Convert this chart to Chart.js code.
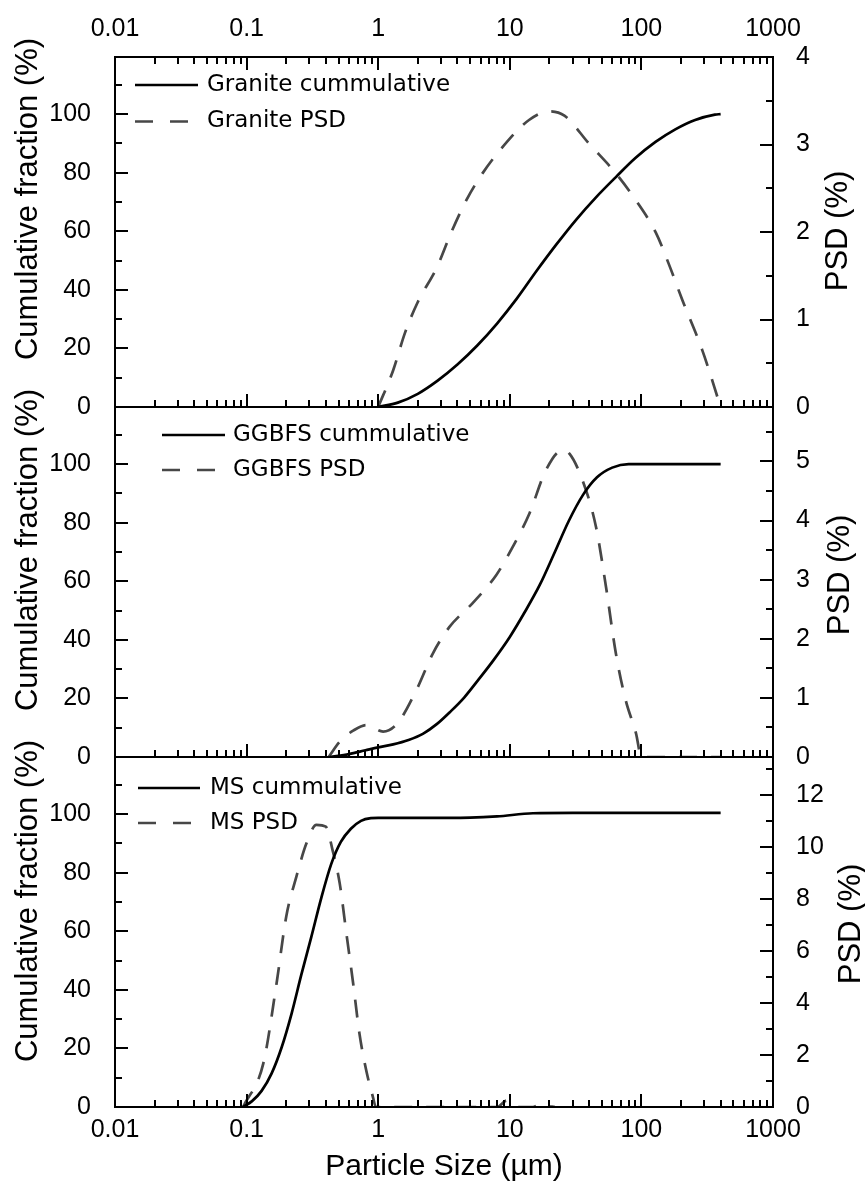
<!DOCTYPE html>
<html><head><meta charset="utf-8">
<script src="https://cdn.jsdelivr.net/npm/chart.js@4.4.1/dist/chart.umd.min.js"></script>
<style>html,body{margin:0;padding:0;background:#fff}#wrap{position:relative;width:865px;height:1198px}</style>
</head><body><div id="wrap"><canvas id="c"></canvas></div>
<script>
// ---------- data ----------
const xTickLabels = ['0.01', '0.1', '1', '10', '100', '1000'];
const xTickValues = [0.01, 0.1, 1, 10, 100, 1000];
const cumTickValues = [0, 20, 40, 60, 80, 100];
const cumMinorValues = [10, 30, 50, 70, 90, 110];
const granitePsdTicks = [0, 1, 2, 3, 4];
const granitePsdMinor = [0.5, 1.5, 2.5, 3.5];
const ggbfsPsdTicks = [0, 1, 2, 3, 4, 5];
const ggbfsPsdMinor = [0.5, 1.5, 2.5, 3.5, 4.5, 5.5];
const msPsdTicks = [0, 2, 4, 6, 8, 10, 12];
const msPsdMinor = [1, 3, 5, 7, 9, 11, 13];

const seriesNames = ['Granite cummulative', 'Granite PSD', 'GGBFS cummulative', 'GGBFS PSD', 'MS cummulative', 'MS PSD'];

const graniteCumSize  = [1, 1.41, 2, 2.83, 4, 5.66, 8, 11.3, 16, 22.6, 32, 45, 64, 90, 128, 181, 256, 362, 400];
const graniteCumValue = [0, 1.5, 4.5, 9, 14.5, 21, 28.5, 37, 46.5, 55.5, 64, 71.5, 78.5, 85, 90.5, 94.8, 98, 99.8, 100];
const granitePsdSize  = [1, 1.3, 1.6, 2, 2.8, 3.6, 4.7, 6.2, 8.8, 14, 20, 26, 40, 64, 90, 129, 160, 205, 290, 400];
const granitePsdValue = [0, 0.42, 0.85, 1.2, 1.6, 2.0, 2.37, 2.67, 2.97, 3.28, 3.38, 3.33, 3.01, 2.67, 2.37, 1.99, 1.65, 1.22, 0.65, 0];

const ggbfsCumSize  = [0.43, 0.6, 0.8, 1, 1.3, 1.7, 2.2, 2.8, 3.5, 4.5, 5.8, 7.5, 10, 13, 17, 22, 28, 36, 46, 60, 80, 400];
const ggbfsCumValue = [0, 1, 2.3, 3.3, 4.3, 5.8, 8, 11.3, 15.3, 20.3, 26.5, 33, 41, 49.5, 59, 70, 80.5, 89.5, 95.5, 98.8, 100, 100];
const ggbfsPsdSize  = [0.42, 0.51, 0.65, 0.81, 1.09, 1.4, 1.95, 2.6, 3.48, 5.2, 7.9, 10.5, 14.1, 18.8, 25.2, 28.4, 35.7, 45.2, 53.8, 64, 76, 91, 100, 400];
const ggbfsPsdValue = [0, 0.26, 0.45, 0.54, 0.43, 0.57, 1.13, 1.75, 2.2, 2.6, 3.08, 3.55, 4.12, 4.85, 5.19, 5.13, 4.68, 3.89, 2.88, 1.75, 0.96, 0.4, 0, 0];

const msCumSize  = [0.094, 0.11, 0.13, 0.155, 0.185, 0.22, 0.26, 0.31, 0.37, 0.44, 0.52, 0.62, 0.74, 0.88, 1, 2, 5, 8, 15, 30, 100, 400];
const msCumValue = [0, 2, 5.5, 11.5, 20.5, 32, 45, 58, 71.5, 83, 90.5, 95, 97.7, 98.6, 98.7, 98.7, 98.8, 99.2, 100.3, 100.4, 100.4, 100.4];
const msPsdSize  = [0.094, 0.134, 0.169, 0.2, 0.239, 0.285, 0.339, 0.40, 0.45, 0.51, 0.573, 0.645, 0.72, 0.81, 0.91, 0.96, 8, 9.5, 10.5, 12, 15, 17, 19, 22];
const msPsdValue = [0, 1.68, 4.76, 7.32, 8.86, 10.14, 10.85, 10.78, 9.88, 8.6, 6.68, 4.76, 2.83, 1.42, 0.4, 0, 0, 0.25, 0.1, 0, 0, 0.12, 0.05, 0];

// ---------- helpers ----------
const pts = (xs, ys) => xs.map((x, i) => ({ x: x, y: ys[i] }));
const TICK_FONT = { family: "'Liberation Sans', Arial, sans-serif", size: 25 };
const TITLE_FONT = "30px 'Liberation Sans', Arial, sans-serif";
const YTITLE_FONT = "31px 'Liberation Sans', Arial, sans-serif";
const LEGEND_FONT = "23px 'DejaVu Sans', Verdana, sans-serif";
const GREY = '#474747';
const DASH = [18, 14];

function lineDs(label, data, yId, dashed) {
  return {
    label: label, data: data, xAxisID: 'x', yAxisID: yId,
    borderColor: dashed ? GREY : '#000', borderWidth: 2.7,
    borderDash: dashed ? DASH : [], pointRadius: 0, fill: false,
    cubicInterpolationMode: 'monotone', borderCapStyle: 'butt'
  };
}
function setTicks(arr) { return s => { s.ticks = arr.map(v => ({ value: v })); }; }
function yAxis(pos, weight, max, ticks, width, pad) {
  return {
    type: 'linear', position: pos, stack: pos, stackWeight: 1, weight: weight,
    min: 0, max: max,
    afterBuildTicks: setTicks(ticks),
    afterFit: s => { s.width = width; },
    ticks: { font: TICK_FONT, color: '#000', padding: pad, callback: v => String(v) },
    grid: { display: false }, border: { display: false }
  };
}
function xAxis(pos, height, pad) {
  return {
    type: 'logarithmic', position: pos, min: 0.01, max: 1000,
    afterBuildTicks: setTicks(xTickValues),
    afterFit: s => { s.height = height; },
    ticks: { font: TICK_FONT, color: '#000', padding: pad, autoSkip: false, maxRotation: 0, minRotation: 0,
             callback: (v, i) => xTickLabels[i] },
    grid: { display: false }, border: { display: false }
  };
}

const panels = [
  { left: 'yL1', right: 'yR1', rMaj: granitePsdTicks, rMin: granitePsdMinor, topTicks: true,
    legend: { x0: 135, x1: 198, tx: 207, y: 85, dy: 36.5, names: [seriesNames[0], seriesNames[1]] },
    lTitleY: 199, rTitleX: 838, rTitleY: 231 },
  { left: 'yL2', right: 'yR2', rMaj: ggbfsPsdTicks, rMin: ggbfsPsdMinor, topTicks: false,
    legend: { x0: 162, x1: 225, tx: 233, y: 435, dy: 35, names: [seriesNames[2], seriesNames[3]] },
    lTitleY: 550, rTitleX: 840, rTitleY: 575 },
  { left: 'yL3', right: 'yR3', rMaj: msPsdTicks, rMin: msPsdMinor, topTicks: false,
    legend: { x0: 138, x1: 200, tx: 210, y: 788, dy: 35, names: [seriesNames[4], seriesNames[5]] },
    lTitleY: 901, rTitleX: 851, rTitleY: 924 }
];

const decor = {
  id: 'decor',
  afterDraw(chart) {
    const ctx = chart.ctx, ca = chart.chartArea, xs = chart.scales.x;
    const MAJ = 13, MIN = 7;
    const xMinor = [];
    for (let d = 0; d < xTickValues.length - 1; d++) for (let k = 2; k <= 9; k++) xMinor.push(xTickValues[d] * k);
    ctx.save();
    ctx.strokeStyle = '#000'; ctx.lineWidth = 2; ctx.setLineDash([]);
    panels.forEach(p => {
      const yl = chart.scales[p.left], yr = chart.scales[p.right];
      const top = yl.top, bot = yl.bottom;
      ctx.beginPath();
      cumTickValues.forEach(v => { const y = Math.round(yl.getPixelForValue(v)); ctx.moveTo(ca.left, y); ctx.lineTo(ca.left + MAJ, y); });
      cumMinorValues.forEach(v => { const y = Math.round(yl.getPixelForValue(v)); ctx.moveTo(ca.left, y); ctx.lineTo(ca.left + MIN, y); });
      p.rMaj.forEach(v => { const y = Math.round(yr.getPixelForValue(v)); ctx.moveTo(ca.right, y); ctx.lineTo(ca.right - MAJ, y); });
      p.rMin.forEach(v => { const y = Math.round(yr.getPixelForValue(v)); ctx.moveTo(ca.right, y); ctx.lineTo(ca.right - MIN, y); });
      xTickValues.forEach(v => { const x = Math.round(xs.getPixelForValue(v)); ctx.moveTo(x, bot); ctx.lineTo(x, bot - MAJ);
        if (p.topTicks) { ctx.moveTo(x, top); ctx.lineTo(x, top + MAJ); } });
      xMinor.forEach(v => { const x = Math.round(xs.getPixelForValue(v)); ctx.moveTo(x, bot); ctx.lineTo(x, bot - MIN);
        if (p.topTicks) { ctx.moveTo(x, top); ctx.lineTo(x, top + MIN); } });
      ctx.stroke();
      ctx.strokeRect(ca.left, top, ca.right - ca.left, bot - top);

      // legend
      const L = p.legend;
      ctx.lineWidth = 2.7;
      ctx.strokeStyle = '#000'; ctx.setLineDash([]);
      ctx.beginPath(); ctx.moveTo(L.x0, L.y); ctx.lineTo(L.x1, L.y); ctx.stroke();
      ctx.strokeStyle = GREY; ctx.setLineDash([18, 17]);
      ctx.beginPath(); ctx.moveTo(L.x0, L.y + L.dy); ctx.lineTo(L.x1, L.y + L.dy); ctx.stroke();
      ctx.setLineDash([]); ctx.strokeStyle = '#000'; ctx.lineWidth = 2;
      ctx.fillStyle = '#000'; ctx.font = LEGEND_FONT; ctx.textAlign = 'left'; ctx.textBaseline = 'middle';
      ctx.fillText(L.names[0], L.tx, L.y);
      ctx.fillText(L.names[1], L.tx, L.y + L.dy);

      // axis titles
      ctx.font = YTITLE_FONT; ctx.textAlign = 'center'; ctx.textBaseline = 'middle';
      ctx.save(); ctx.translate(28, p.lTitleY); ctx.rotate(-Math.PI / 2); ctx.fillText('Cumulative fraction (%)', 0, 0); ctx.restore();
      ctx.save(); ctx.translate(p.rTitleX, p.rTitleY); ctx.rotate(-Math.PI / 2); ctx.fillText('PSD (%)', 0, 0); ctx.restore();
    });
    ctx.font = TITLE_FONT; ctx.textAlign = 'center'; ctx.textBaseline = 'middle';
    ctx.fillText('Particle Size (\u00b5m)', (ca.left + ca.right) / 2, 1167);
    ctx.restore();
  }
};

new Chart(document.getElementById('c'), {
  type: 'line',
  data: {
    datasets: [
      lineDs(seriesNames[0], pts(graniteCumSize, graniteCumValue), 'yL1', false),
      lineDs(seriesNames[1], pts(granitePsdSize, granitePsdValue), 'yR1', true),
      lineDs(seriesNames[2], pts(ggbfsCumSize, ggbfsCumValue), 'yL2', false),
      lineDs(seriesNames[3], pts(ggbfsPsdSize, ggbfsPsdValue), 'yR2', true),
      lineDs(seriesNames[4], pts(msCumSize, msCumValue), 'yL3', false),
      lineDs(seriesNames[5], pts(msPsdSize, msPsdValue), 'yR3', true)
    ]
  },
  options: {
    responsive: true, maintainAspectRatio: false, animation: false, devicePixelRatio: 1,
    layout: { padding: 0 },
    plugins: { legend: { display: false }, tooltip: { enabled: false } },
    scales: {
      x: xAxis('bottom', 91, 0),
      x2: xAxis('top', 57, 5),
      yL1: yAxis('left', 3, 119.5, cumTickValues, 115, 16),
      yL2: yAxis('left', 2, 119.5, cumTickValues, 115, 16),
      yL3: yAxis('left', 1, 119.5, cumTickValues, 115, 16),
      yR1: yAxis('right', 1, 4, granitePsdTicks, 92, 15),
      yR2: yAxis('right', 2, 5.92, ggbfsPsdTicks, 92, 15),
      yR3: yAxis('right', 3, 13.46, msPsdTicks, 92, 15)
    }
  },
  plugins: [decor]
});
</script></body></html>
